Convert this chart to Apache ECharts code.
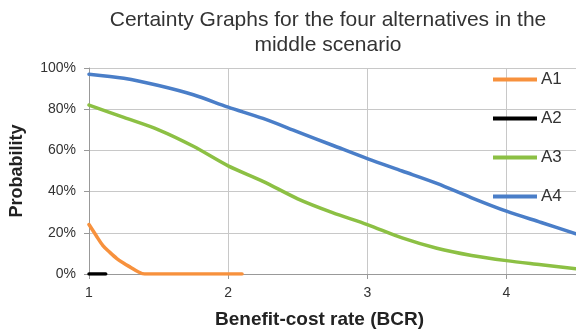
<!DOCTYPE html>
<html>
<head>
<meta charset="utf-8">
<script src="https://cdn.jsdelivr.net/npm/echarts@6/dist/echarts.min.js"></script>
<style>
html,body{margin:0;padding:0;background:#fff;}
#chart{width:576px;height:334px;}
</style>
</head>
<body>
<div id="chart"></div>
<script>
// Data
const titleText = "Certainty Graphs for the four alternatives in the\nmiddle scenario";
const xAxisTitle = "Benefit-cost rate (BCR)";
const yAxisTitle = "Probability";
const seriesNames = ["A1", "A2", "A3", "A4"];

const a1X = [1, 1.05, 1.1, 1.15, 1.2, 1.25, 1.3, 1.35, 1.4, 1.6, 1.8, 2.0, 2.1];
const a1Y = [24, 18.8, 13.8, 10.5, 7.5, 5.2, 3.2, 1.2, 0, 0, 0, 0, 0];

const a2X = [1, 1.06, 1.12];
const a2Y = [0, 0, 0];

const a3X = [1, 1.25, 1.5, 1.75, 2, 2.25, 2.5, 2.75, 3, 3.25, 3.5, 3.75, 4, 4.25, 4.5];
const a3Y = [82, 76, 70, 62, 52.5, 45, 36.5, 29.8, 24, 17.5, 12.5, 9, 6.5, 4.5, 2.5];

const a4X = [1, 1.25, 1.5, 1.75, 2, 2.25, 2.5, 2.75, 3, 3.25, 3.5, 3.75, 4, 4.25, 4.5];
const a4Y = [97, 95, 91.5, 87, 81, 75.5, 69, 62.5, 56, 50, 44, 37, 30.5, 25, 19.5];

const xTicks = [1, 2, 3, 4];
const yTicks = [0, 20, 40, 60, 80, 100];

const colors = ["#F7913D", "#000000", "#8CC044", "#4A7EC8"];

function pairs(xs, ys) { return xs.map((x, i) => [x, ys[i]]); }
const seriesData = [pairs(a1X, a1Y), pairs(a2X, a2Y), pairs(a3X, a3Y), pairs(a4X, a4Y)];

const chart = echarts.init(document.getElementById('chart'), null, {renderer: 'canvas'});
const font = "'Liberation Sans', Arial, Helvetica, sans-serif";

chart.setOption({
  animation: false,
  textStyle: {fontFamily: font},
  title: {
    text: titleText,
    left: 328,
    top: 8,
    padding: 0,
    textAlign: 'center',
    textStyle: {fontSize: 21, fontWeight: 'normal', color: '#333', lineHeight: 25, fontFamily: font}
  },
  grid: {left: 88, right: 0, top: 68, bottom: 57, containLabel: false},
  legend: {
    orient: 'vertical',
    left: 493,
    top: 71,
    padding: 0,
    itemGap: 22,
    itemWidth: 44,
    itemHeight: 4,
    icon: 'rect',
    data: seriesNames,
    textStyle: {fontSize: 17, color: '#333', padding: [0, 0, 0, -1], fontFamily: font}
  },
  xAxis: {
    type: 'value',
    min: 1,
    max: 4.5,
    interval: 1,
    name: xAxisTitle,
    nameLocation: 'middle',
    nameGap: 36,
    nameTextStyle: {fontSize: 19, fontWeight: 'bold', color: '#222', padding: [0, 26, 0, 0], fontFamily: font},
    axisLine: {show: true, lineStyle: {color: '#999', width: 1}},
    axisTick: {show: true, length: 5, lineStyle: {color: '#999'}},
    axisLabel: {
      fontSize: 14, color: '#333', margin: 12,
      showMaxLabel: false,
      formatter: function (v) { return xTicks.indexOf(v) >= 0 ? String(v) : ''; }
    },
    splitLine: {show: true, lineStyle: {color: '#c8c8c8', width: 1}}
  },
  yAxis: {
    type: 'value',
    min: 0,
    max: 100,
    interval: 20,
    name: yAxisTitle,
    nameLocation: 'middle',
    nameGap: 63,
    nameTextStyle: {fontSize: 18, fontWeight: 'bold', color: '#222', fontFamily: font},
    axisLine: {show: true, lineStyle: {color: '#999', width: 1}},
    axisTick: {show: true, length: 5, lineStyle: {color: '#999'}},
    axisLabel: {
      fontSize: 14, color: '#333', margin: 13,
      formatter: function (v) { return yTicks.indexOf(v) >= 0 ? v + '%' : ''; }
    },
    splitLine: {show: true, lineStyle: {color: '#c8c8c8', width: 1}}
  },
  series: seriesNames.map((n, i) => ({
    name: n,
    type: 'line',
    data: seriesData[i],
    showSymbol: false,
    symbol: 'none',
    smooth: 0.3,
    color: colors[i],
    lineStyle: {width: 3.5, color: colors[i], join: 'round', cap: 'round'},
    z: 2 + i
  }))
});
</script>
</body>
</html>
